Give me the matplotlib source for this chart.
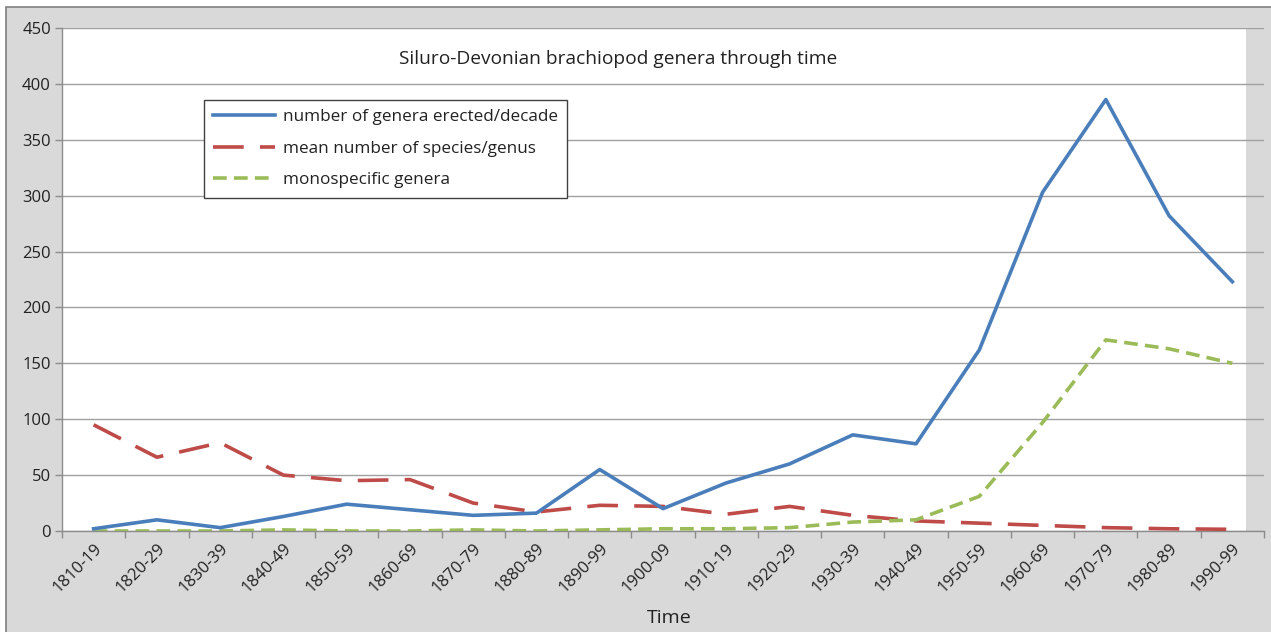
import numpy as np
import matplotlib
matplotlib.use("Agg")
import matplotlib.pyplot as plt
from matplotlib.patches import Rectangle

plt.rcParams['font.family'] = ['Open Sans', 'DejaVu Sans']

# data
decades = ['1810-19', '1820-29', '1830-39', '1840-49', '1850-59', '1860-69',
           '1870-79', '1880-89', '1890-99', '1900-09', '1910-19', '1920-29',
           '1930-39', '1940-49', '1950-59', '1960-69', '1970-79', '1980-89',
           '1990-99']
genera_erected = [2, 10, 3, 13, 24, 19, 14, 16, 55, 20, 43, 60, 86, 78, 162,
                  303, 386, 282, 223]
mean_species = [95, 66, 79, 50, 45, 46, 25, 17, 23, 22, 15, 22, 14, 9, 7, 5,
                3, 2, 1.5]
monospecific = [0, 0, 0, 1, 0, 0, 1, 0, 1, 2, 2, 3, 8, 10, 31, 97, 171, 163,
                150]
yticks = [0, 50, 100, 150, 200, 250, 300, 350, 400, 450]

W, H = 1271, 632
fig = plt.figure(figsize=(W / 100, H / 100), dpi=100, facecolor='white')

# chart area background with border (Excel style)
fig.patches.append(Rectangle((6 / W, -0.05), 1.1, (H - 7) / H + 0.05,
                             transform=fig.transFigure, facecolor='#d9d9d9',
                             edgecolor='#7f7f7f', linewidth=1.2, zorder=-5))

ax_l, ax_b, ax_r, ax_t = 62, 101, 1264, 604   # pixels from bottom-left
ax = fig.add_axes([ax_l / W, ax_b / H, (ax_r - ax_l) / W, (ax_t - ax_b) / H])
ax.set_facecolor('white')
x = np.arange(len(decades))

ax.plot(x, genera_erected, color='#4a7ebb', lw=2.6,
        label='number of genera erected/decade', zorder=4)
ax.plot(x, mean_species, color='#be4b48', lw=2.6, dashes=(8.5, 4.5),
        label='mean number of species/genus', zorder=3)
ax.plot(x, monospecific, color='#9bbb59', lw=2.6, dashes=(3.8, 2.0),
        label='monospecific genera', zorder=3)

ax.set_xlim(-0.5, len(decades) - 0.5)
ax.set_ylim(0, 450)
ax.axvspan(len(decades) - 0.79, len(decades) - 0.5, color='#d9d9d9', lw=0,
           zorder=0.5)

ax.set_yticks(yticks)
ax.set_yticklabels([str(v) for v in yticks], fontsize=12, color='#222222')
ax.yaxis.grid(True, color='#a0a0a0', lw=1.0, zorder=1)
ax.set_axisbelow(True)

ax.set_xticks(x)
ax.set_xticklabels(decades, rotation=45, ha='right', rotation_mode='anchor',
                   fontsize=12, color='#222222')
ax.set_xticks(np.arange(-0.5, len(decades)), minor=True)
ax.tick_params(axis='x', which='major', length=0, pad=7)
ax.tick_params(axis='x', which='minor', length=5, color='#8c8c8c', width=1)
ax.tick_params(axis='y', length=5, color='#8c8c8c', width=1, pad=3)

for s in ['top', 'right']:
    ax.spines[s].set_visible(False)
for s in ['left', 'bottom']:
    ax.spines[s].set_color('#8c8c8c')
    ax.spines[s].set_linewidth(1.0)

ax.set_xlabel('Time', fontsize=14, color='#222222')
ax.xaxis.set_label_coords(0.505, -0.155)

ax.text(0.4626, (H - 59 - ax_b) / (ax_t - ax_b),
        'Siluro-Devonian brachiopod genera through time',
        transform=ax.transAxes, ha='center', va='center', fontsize=13.8,
        color='#222222')

leg = ax.legend(loc='upper left',
                bbox_to_anchor=((204 - ax_l) / (ax_r - ax_l),
                                (H - 100 - ax_b) / (ax_t - ax_b)),
                fontsize=12.3, frameon=True, fancybox=False, handlelength=3.6,
                handletextpad=0.45, borderpad=0.55, labelspacing=0.9,
                borderaxespad=0)
leg.get_frame().set_edgecolor('#404040')
leg.get_frame().set_linewidth(1.0)
leg.get_frame().set_alpha(1)
for t in leg.get_texts():
    t.set_color('#222222')

fig.savefig('out.png', dpi=100, facecolor=fig.get_facecolor())
